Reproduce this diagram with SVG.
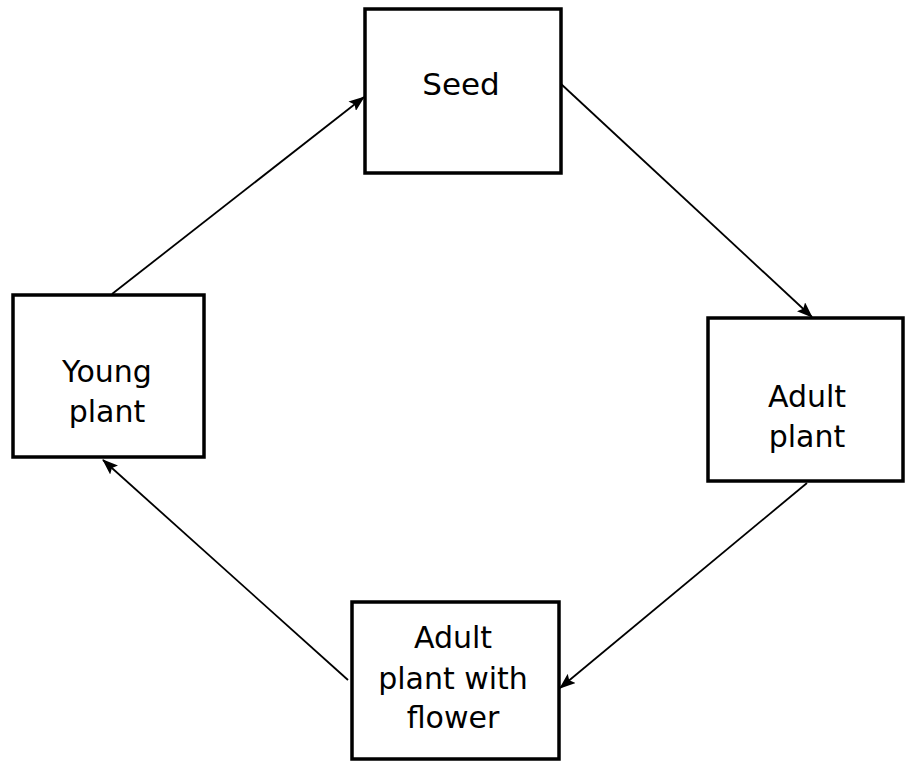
<svg xmlns="http://www.w3.org/2000/svg" width="905" height="767" viewBox="0 0 905 767">
<style>
.box{fill:#fff;stroke:#000;stroke-width:3.5}
.lbl{font-family:"DejaVu Sans",sans-serif;font-size:30px;fill:#000;text-anchor:middle}
.conn{stroke:#000;stroke-width:1.8;fill:none;marker-end:url(#ah)}
</style>
<defs>
<marker id="ah" viewBox="0 0 16 12" refX="15" refY="6" markerWidth="16" markerHeight="12" markerUnits="userSpaceOnUse" orient="auto">
<path d="M0,0 L16,6 L0,12 L3,6 z" fill="#000"/>
</marker>
</defs>
<rect width="905" height="767" fill="#fff"/>
<g id="connectors">
<line class="conn" x1="112" y1="294" x2="364" y2="97"/>
<line class="conn" x1="560" y1="83" x2="812" y2="317"/>
<line class="conn" x1="807" y1="483" x2="560" y2="688"/>
<line class="conn" x1="348" y1="680" x2="103" y2="460"/>
</g>
<g id="seed">
<rect class="box" x="365" y="9" width="196" height="164"/>
<text class="lbl" x="461" y="95" style="font-size:31px">Seed</text>
</g>
<g id="young-plant">
<rect class="box" x="13" y="295" width="191" height="162"/>
<text class="lbl" x="107" y="382">Young</text>
<text class="lbl" x="107" y="422">plant</text>
</g>
<g id="adult-plant">
<rect class="box" x="708" y="318" width="195" height="163"/>
<text class="lbl" x="807" y="407">Adult</text>
<text class="lbl" x="807" y="447">plant</text>
</g>
<g id="adult-plant-flower">
<rect class="box" x="352" y="602" width="207" height="157"/>
<text class="lbl" x="453" y="648">Adult</text>
<text class="lbl" x="453" y="689">plant with</text>
<text class="lbl" x="453" y="728">flower</text>
</g>
</svg>
